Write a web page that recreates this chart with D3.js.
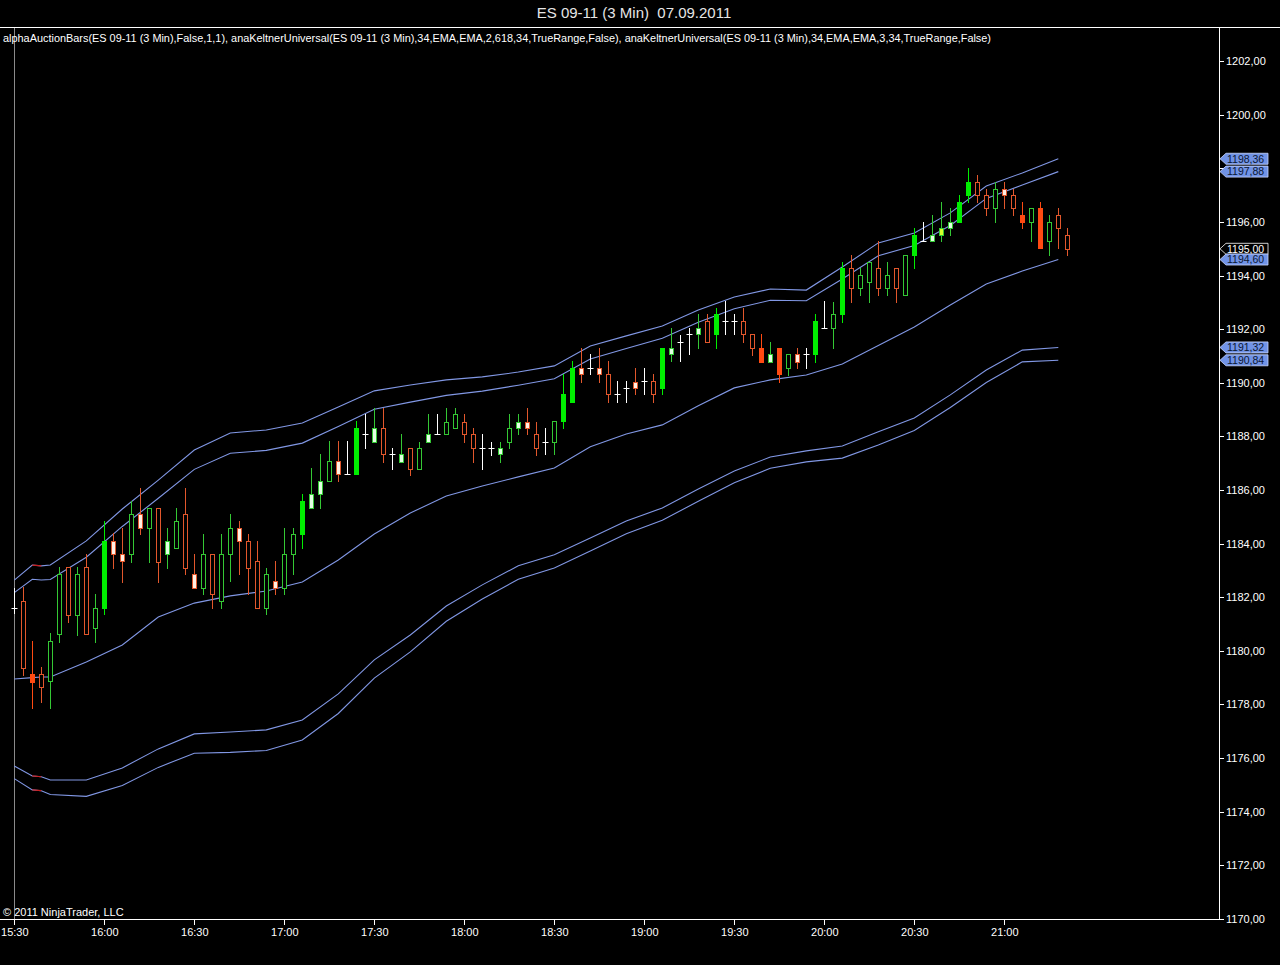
<!DOCTYPE html>
<html><head><meta charset="utf-8">
<script src="https://cdn.jsdelivr.net/npm/d3@7/dist/d3.min.js"></script>
<style>html,body{margin:0;padding:0;background:#000;overflow:hidden}</style>
</head><body><svg id="c" width="1280" height="965"></svg>
<script>
// ---- DATA ----
const open  = [1181.60,1181.86,1179.12,1179.12,1178.86,1180.62,1183.12,1181.35,1183.12,1180.86,
1181.61,1184.10,1183.61,1183.60,1185.10,1184.57,1185.32,1183.61,1183.85,1185.09,
1182.86,1182.36,1183.60,1181.86,1183.60,1184.57,1184.10,1183.35,1181.61,1182.60,
1182.36,1183.60,1184.35,1185.34,1185.84,1186.34,1187.08,1186.59,1186.59,1188.08,
1187.80,1188.30,1187.33,1187.05,1187.56,1186.78,1187.80,1188.08,1188.08,1188.30,
1188.55,1188.08,1187.56,1187.56,1187.33,1187.80,1188.30,1188.55,1188.08,1187.80,
1187.80,1188.57,1189.30,1190.54,1190.54,1190.54,1190.31,1189.57,1189.80,1190.04,
1190.07,1190.07,1189.80,1191.06,1191.53,1191.81,1191.81,1192.30,1191.81,1192.30,
1192.30,1192.30,1191.81,1191.28,1190.79,1191.28,1190.54,1191.06,1191.06,1191.06,
1192.03,1192.03,1192.55,1194.27,1193.52,1193.77,1194.27,1193.52,1194.27,1193.27,
1194.77,1195.29,1195.29,1195.51,1195.76,1196.01,1197.00,1197.50,1197.00,1196.51,
1197.25,1197.00,1196.26,1196.01,1196.51,1195.28,1196.26,1195.51];
const high  = [1182.35,1182.37,1180.37,1179.41,1180.66,1183.14,1183.12,1183.12,1183.61,1182.11,
1184.84,1184.38,1184.57,1185.60,1186.06,1185.32,1185.32,1184.57,1185.34,1186.06,
1183.60,1184.35,1183.60,1184.35,1185.09,1184.84,1184.35,1184.10,1183.10,1183.35,
1184.60,1184.60,1185.84,1186.81,1187.33,1187.83,1187.83,1187.83,1188.57,1188.82,
1189.05,1189.05,1187.56,1188.08,1187.56,1187.80,1188.82,1188.82,1189.05,1189.05,
1188.82,1188.30,1188.08,1187.80,1187.80,1188.82,1188.82,1189.05,1188.55,1188.32,
1188.57,1190.31,1190.81,1191.28,1191.06,1191.28,1190.81,1190.07,1190.07,1190.54,
1190.54,1190.31,1191.28,1192.03,1191.78,1192.03,1192.55,1192.55,1192.78,1193.05,
1192.55,1192.78,1191.81,1191.81,1191.53,1191.28,1191.06,1191.28,1191.28,1192.55,
1193.05,1193.03,1194.52,1194.77,1194.27,1194.52,1195.29,1194.52,1194.27,1194.77,
1195.76,1196.01,1196.26,1196.76,1196.51,1197.00,1198.00,1197.75,1197.25,1197.50,
1197.50,1197.25,1196.76,1196.51,1196.76,1196.26,1196.51,1195.76];
const low   = [1181.40,1179.10,1177.88,1178.10,1177.86,1180.34,1181.08,1180.59,1180.62,1180.34,
1181.36,1183.10,1182.58,1183.33,1184.35,1183.33,1182.58,1183.08,1183.85,1182.86,
1182.36,1182.11,1181.61,1181.61,1182.60,1182.86,1182.11,1181.61,1181.36,1182.11,
1182.11,1182.86,1183.85,1185.34,1185.34,1186.34,1186.34,1186.59,1186.59,1187.56,
1187.80,1187.05,1186.78,1187.05,1186.56,1186.78,1187.80,1188.08,1188.08,1188.30,
1187.80,1187.05,1186.78,1187.31,1187.05,1187.56,1188.08,1188.08,1187.31,1187.33,
1187.33,1188.32,1189.30,1190.04,1190.31,1190.04,1189.30,1189.30,1189.30,1189.57,
1189.57,1189.30,1189.57,1190.81,1190.81,1191.06,1191.28,1191.53,1191.28,1191.81,
1191.81,1191.53,1191.04,1190.79,1190.79,1190.04,1190.29,1190.54,1190.54,1190.79,
1192.03,1191.28,1192.28,1193.03,1193.27,1193.03,1193.27,1193.27,1193.03,1193.27,
1194.27,1195.29,1195.29,1195.28,1195.51,1196.01,1196.76,1196.76,1196.26,1196.01,
1196.51,1196.26,1195.76,1195.28,1195.02,1194.77,1195.02,1194.77];
const close = [1181.60,1179.37,1178.85,1178.64,1180.36,1182.86,1181.35,1182.86,1180.62,1181.61,
1184.10,1183.61,1183.35,1185.10,1184.57,1185.32,1183.33,1184.10,1184.84,1183.10,
1182.36,1183.60,1182.11,1183.60,1184.60,1184.10,1183.10,1181.61,1182.86,1182.36,
1183.60,1184.35,1185.59,1185.84,1186.34,1187.08,1186.59,1186.59,1188.30,1188.08,
1188.30,1187.33,1187.33,1187.33,1186.78,1187.56,1188.08,1188.08,1188.55,1188.82,
1188.08,1187.56,1187.56,1187.56,1187.56,1188.30,1188.55,1188.30,1187.56,1187.80,
1188.57,1189.57,1190.54,1190.31,1190.54,1190.31,1189.57,1189.57,1189.80,1189.80,
1190.07,1189.57,1191.28,1191.28,1191.53,1191.81,1192.03,1191.53,1192.55,1192.30,
1192.30,1191.81,1191.28,1190.79,1191.06,1190.31,1191.06,1190.79,1191.06,1192.30,
1192.03,1192.55,1194.27,1193.52,1194.02,1194.52,1193.52,1194.02,1193.52,1194.77,
1195.51,1195.29,1195.51,1195.76,1196.01,1196.76,1197.50,1197.00,1196.51,1197.25,
1197.00,1196.51,1196.01,1196.51,1195.02,1196.01,1195.76,1195.00];
// bar look: gh green hollow, gf green filled, rh red hollow, rf red filled,
// pg pale-green body, pr pale-red body, y yellow body, w white doji
const barStyle = ["w","rh","rf","rh","gh","gh","rh","gh","rh","gh",
"gf","pr","pr","gh","pr","gh","rh","pg","gh","rh",
"pr","gh","rh","gh","gh","pr","rh","rh","gh","pr",
"gh","gh","gf","pg","pg","gh","pr","w","gf","w",
"pg","rh","w","pg","rh","gh","pg","w","gh","gh",
"rh","rh","w","w","pg","gh","pg","pr","rh","w",
"gh","gf","gf","pr","w","pr","rh","w","w","pr",
"w","rh","gf","pg","w","w","pg","rh","gf","w",
"w","rh","rh","rf","pg","rf","gh","pr","w","gf",
"w","gh","gf","rh","gh","gh","rh","gh","rh","gh",
"gf","w","pg","y","pg","gf","gf","rh","rh","gh",
"pr","rh","rf","gh","rf","gh","rh","rh"];

// Keltner channel lines, sampled at these bar numbers
const bandBars  = [0,2,3,4,8,12,16,20,24,28,32,36,40,44,48,52,56,60,64,68,72,76,80,84,88,92,96,100,104,108,112,116];
const upper3    = [1182.64,1183.20,1183.17,1183.20,1184.10,1185.29,1186.37,1187.49,1188.13,1188.24,1188.50,1189.10,1189.70,1189.92,1190.11,1190.22,1190.40,1190.63,1191.37,1191.75,1192.12,1192.72,1193.20,1193.50,1193.46,1194.32,1195.22,1195.59,1196.34,1197.34,1197.83,1198.36];
const upper2618 = [1182.17,1182.67,1182.64,1182.66,1183.49,1184.64,1185.69,1186.77,1187.37,1187.48,1187.75,1188.37,1189.01,1189.28,1189.53,1189.69,1189.91,1190.15,1190.89,1191.28,1191.66,1192.26,1192.76,1193.08,1193.06,1193.87,1194.74,1195.12,1195.87,1196.88,1197.38,1197.88];
const middle    = [1178.95,1179.00,1179.02,1179.02,1179.58,1180.22,1181.26,1181.78,1182.05,1182.23,1182.57,1183.39,1184.36,1185.14,1185.78,1186.15,1186.49,1186.82,1187.61,1188.09,1188.43,1189.14,1189.81,1190.11,1190.29,1190.70,1191.39,1192.08,1192.90,1193.69,1194.17,1194.60];
const lower2618 = [1175.70,1175.33,1175.30,1175.18,1175.18,1175.63,1176.34,1176.90,1176.97,1177.05,1177.42,1178.39,1179.66,1180.59,1181.67,1182.46,1183.17,1183.58,1184.21,1184.84,1185.33,1186.04,1186.71,1187.23,1187.46,1187.64,1188.17,1188.69,1189.55,1190.48,1191.22,1191.32];
const lower3    = [1175.23,1174.81,1174.78,1174.64,1174.57,1174.97,1175.65,1176.18,1176.21,1176.28,1176.67,1177.66,1178.98,1179.96,1181.10,1181.93,1182.67,1183.09,1183.72,1184.37,1184.87,1185.58,1186.27,1186.81,1187.05,1187.19,1187.68,1188.22,1189.08,1190.01,1190.78,1190.84];

const timeTicks  = ["15:30","16:00","16:30","17:00","17:30","18:00","18:30","19:00","19:30","20:00","20:30","21:00"];
const priceTicks = [1170,1172,1174,1176,1178,1180,1182,1184,1186,1188,1190,1192,1194,1196,1198,1200,1202];
const priceTags  = [
  {v:1198.36,last:false},{v:1197.88,last:false},{v:1195.00,last:true},
  {v:1194.60,last:false},{v:1191.32,last:false},{v:1190.84,last:false}];
const titleText = "ES 09-11 (3 Min)  07.09.2011";
const indicatorText = "alphaAuctionBars(ES 09-11 (3 Min),False,1,1), anaKeltnerUniversal(ES 09-11 (3 Min),34,EMA,EMA,2,618,34,TrueRange,False), anaKeltnerUniversal(ES 09-11 (3 Min),34,EMA,EMA,3,34,TrueRange,False)";

// ---- CHART ----
const svg = d3.select("#c");
const FONT = "'Liberation Sans', Arial, sans-serif";
svg.append("rect").attr("width",1280).attr("height",965).attr("fill","#000");

const parseT = d3.timeParse("%H:%M");
const day = t => { const p = parseT(t); return new Date(2011,8,7,p.getHours(),p.getMinutes()); };
const t0 = day("15:30");
const barTime = i => d3.timeMinute.offset(t0, 3*i);
const times = open.map((d,i)=>barTime(i));

const panelTop = 27, panelBottom = 919, panelRight = 1219;
const x = d3.scaleTime().domain([times[0], times[times.length-1]]).range([14.3, 14.3 + 9*(times.length-1)]);
const y = d3.scaleLinear().domain([1170,1202]).range([918.8, 61.2]);
const fmtPrice = v => d3.format(".2f")(v).replace(".",",");

// title
svg.append("text").attr("x",634).attr("y",18).attr("text-anchor","middle")
  .attr("fill","#e6e6e6").style("font-family",FONT).style("font-size","15px")
  .style("white-space","pre").attr("xml:space","preserve").text(titleText);
// frame lines
svg.append("line").attr("x1",0).attr("x2",1280).attr("y1",panelTop+0.5).attr("y2",panelTop+0.5).attr("stroke","#fff");
svg.append("line").attr("x1",panelRight+0.5).attr("x2",panelRight+0.5).attr("y1",panelTop).attr("y2",panelBottom).attr("stroke","#fff");
svg.append("line").attr("x1",0).attr("x2",panelRight).attr("y1",panelBottom+0.5).attr("y2",panelBottom+0.5).attr("stroke","#fff");
// session start line
svg.append("line").attr("x1",Math.round(x(times[0]))+0.5).attr("x2",Math.round(x(times[0]))+0.5)
  .attr("y1",panelTop+1).attr("y2",panelBottom).attr("stroke","#8a8a8a");

// indicator caption
svg.append("text").attr("x",3).attr("y",42).attr("fill","#fff").style("font-family",FONT)
  .style("font-size","11px").attr("textLength",988).attr("lengthAdjust","spacingAndGlyphs").text(indicatorText);
svg.append("text").attr("x",3).attr("y",916).attr("fill","#fff").style("font-family",FONT)
  .style("font-size","11px").text("\u00A9 2011 NinjaTrader, LLC");

// bands
const bandColor = "#8197e4";
const bandLine = arr => d3.line().x((d,k)=>x(barTime(bandBars[k]))).y((d)=>y(d))(arr);
[upper3, upper2618, middle, lower2618, lower3].forEach(arr=>{
  svg.append("path").attr("d",bandLine(arr)).attr("fill","none").attr("stroke",bandColor).attr("stroke-width",1.1);
});
// red early segment (bars 2-3)
[upper3, lower2618, lower3].forEach(arr=>{
  const seg = d3.line().x(k=>x(barTime(bandBars[k]))).y(k=>y(arr[k]))([1,2]);
  svg.append("path").attr("d",seg).attr("fill","none").attr("stroke","#c81e1e").attr("stroke-width",1.2);
});

// candles
const look = {
  gh:{s:"#34c834", f:"#000"},
  gf:{s:"#00ee00", f:"#00ee00"},
  rh:{s:"#e2572c", f:"#000"},
  rf:{s:"#ff4a12", f:"#ff4a12"},
  pg:{s:"#34c834", f:"#e4ffe4"},
  pr:{s:"#e2572c", f:"#fff0e4"},
  y: {s:"#34c834", f:"#d8ff2a"},
  w: {s:"#ffffff", f:"#ffffff"}
};
const g = svg.append("g");
times.forEach((t,i)=>{
  const st = look[barStyle[i]];
  const cx = Math.round(x(t)) + 0.5;
  g.append("line").attr("x1",cx).attr("x2",cx)
    .attr("y1",Math.round(y(high[i]))).attr("y2",Math.round(y(low[i]))+1)
    .attr("stroke",st.s).attr("stroke-width",1);
  if (barStyle[i]==="w") {
    const yc = Math.round(y(close[i]))+0.5;
    g.append("line").attr("x1",cx-3).attr("x2",cx+3).attr("y1",yc).attr("y2",yc)
      .attr("stroke",st.s).attr("stroke-width",1);
  } else {
    const top = Math.round(y(Math.max(open[i],close[i])));
    const bot = Math.round(y(Math.min(open[i],close[i])));
    g.append("rect").attr("x",cx-2).attr("y",top+0.5).attr("width",4).attr("height",Math.max(1,bot-top))
      .attr("fill",st.f).attr("stroke",st.s).attr("stroke-width",1);
  }
});

// axes
const tickDates = timeTicks.map(day);
const xAxis = d3.axisBottom(x).tickValues(tickDates).tickFormat(d3.timeFormat("%H:%M")).tickSize(6).tickSizeOuter(0);
const gx = svg.append("g").attr("transform",`translate(0,${panelBottom})`).call(xAxis);
const yAxis = d3.axisRight(y).tickValues(priceTicks).tickFormat(fmtPrice).tickSize(5).tickPadding(2).tickSizeOuter(0);
const gy = svg.append("g").attr("transform",`translate(${panelRight},0)`).call(yAxis);
[gx,gy].forEach(a=>{
  a.select(".domain").remove();
  a.selectAll(".tick line").attr("stroke","#fff").attr("shape-rendering","crispEdges");
  a.selectAll(".tick text").attr("fill","#fff").style("font-family",FONT).style("font-size","11px");
});
// price labels that are covered by the value tags are not shown
gy.selectAll(".tick").filter(d => priceTags.some(p => Math.abs(y(p.v)-y(d)) < 9)).select("text").remove();

// price tags
priceTags.forEach(p=>{
  const cy = y(p.v);
  const x0 = panelRight+1, xa = x0+6, x1 = 1268;
  svg.append("path").attr("d",`M${x0},${cy} L${xa},${cy-5.5} L${x1},${cy-5.5} L${x1},${cy+5.5} L${xa},${cy+5.5} Z`)
    .attr("fill",p.last?"#000":"#7193e6").attr("stroke",p.last?"#fff":"#c8d6ff").attr("stroke-width",0.8);
  svg.append("text").attr("x",xa+1).attr("y",cy).attr("dy","0.36em")
    .attr("fill",p.last?"#fff":"#0b1733").style("font-family",FONT).style("font-size","10.5px").text(fmtPrice(p.v));
});
</script></body></html>
